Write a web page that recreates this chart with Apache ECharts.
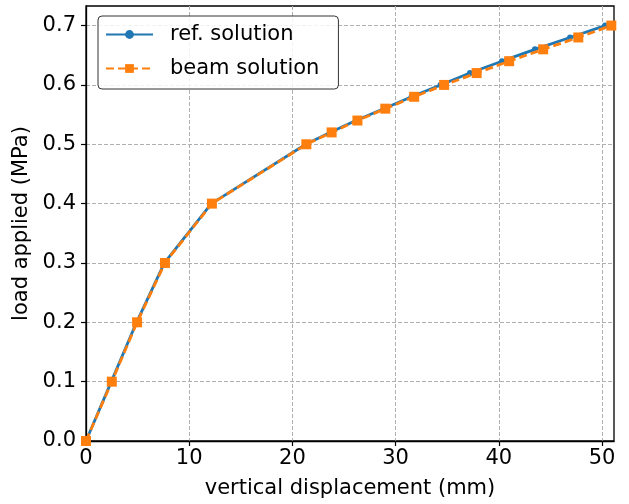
<!DOCTYPE html>
<html>
<head>
<meta charset="utf-8">
<script src="https://cdn.jsdelivr.net/npm/echarts@6/dist/echarts.min.js"></script>
<style>html,body{margin:0;padding:0;background:#fff}#c{width:629px;height:504px}</style>
</head>
<body>
<div id="c"></div>
<script>
const loads = [0, 0.1, 0.2, 0.3, 0.4, 0.5, 0.52, 0.54, 0.56, 0.58, 0.60, 0.62, 0.64, 0.66, 0.68, 0.70];
const refDisp = [0, 2.45, 4.9, 7.6, 12.15, 21.3, 23.65, 26.15, 28.85, 31.55, 34.35, 37.2, 40.3, 43.5, 46.9, 50.3];
const beamDisp = [0, 2.5, 4.95, 7.65, 12.2, 21.35, 23.8, 26.3, 29.0, 31.8, 34.7, 37.85, 41.0, 44.3, 47.7, 50.9];
const xTicks = [0, 10, 20, 30, 40, 50];
const yTicks = [0, 0.1, 0.2, 0.3, 0.4, 0.5, 0.6, 0.7];

const font = 'DejaVu Sans';
const fs = 21;
const chart = echarts.init(document.getElementById('c'), null, {renderer: 'canvas'});
const pair = (xs) => xs.map((x, i) => [x, loads[i]]);
chart.setOption({
  animation: false,
  backgroundColor: '#fff',
  grid: {left: 86, right: 15, top: 6, bottom: 63, show: true, borderColor: '#000', borderWidth: 1.3, backgroundColor: 'transparent'},
  xAxis: {
    type: 'value', min: 0, max: 51.16, interval: 10,
    name: 'vertical displacement (mm)', nameLocation: 'middle', nameGap: 37,
    nameTextStyle: {fontFamily: font, fontSize: fs, color: '#000'},
    axisLine: {show: true, onZero: false, lineStyle: {color: '#000', width: 1.3}},
    axisTick: {show: true, length: 5, lineStyle: {color: '#000', width: 1.2}, customValues: xTicks},
    axisLabel: {fontFamily: font, fontSize: fs, color: '#000', margin: 7, customValues: xTicks, formatter: v => String(v)},
    splitLine: {show: true, lineStyle: {color: '#b0b0b0', type: [4, 2], width: 1}}
  },
  yAxis: {
    type: 'value', min: 0, max: 0.733, interval: 0.1,
    name: 'load applied (MPa)', nameLocation: 'middle', nameGap: 51, nameRotate: 90,
    nameTextStyle: {fontFamily: font, fontSize: fs, color: '#000'},
    axisLine: {show: true, onZero: false, lineStyle: {color: '#000', width: 1.3}},
    axisTick: {show: true, length: 5, lineStyle: {color: '#000', width: 1.2}, customValues: yTicks},
    axisLabel: {fontFamily: font, fontSize: fs, color: '#000', margin: 10, customValues: yTicks, formatter: v => v.toFixed(1)},
    splitLine: {show: true, lineStyle: {color: '#b0b0b0', type: [4, 2], width: 1}}
  },
  legend: {
    left: 98, top: 16, orient: 'vertical',
    padding: [8, 19, 10, 7], itemGap: 13,
    itemWidth: 47, itemHeight: 11,
    backgroundColor: 'rgba(255,255,255,0.85)', borderColor: '#333', borderWidth: 1, borderRadius: 4,
    textStyle: {fontFamily: font, fontSize: fs, color: '#000', padding: [0, 0, 0, 12]},
    data: ['ref. solution', 'beam solution']
  },
  series: [
    {
      name: 'ref. solution', type: 'line', data: pair(refDisp),
      color: '#1f77b4', symbol: 'circle', symbolSize: 6, showSymbol: true,
      lineStyle: {color: '#1f77b4', width: 2.8},
      itemStyle: {color: '#1f77b4'}, clip: true, z: 2
    },
    {
      name: 'beam solution', type: 'line', data: pair(beamDisp),
      color: '#ff7f0e', symbol: 'rect', symbolSize: 10, showSymbol: true,
      lineStyle: {color: '#ff7f0e', width: 2.8, type: [8, 4]},
      itemStyle: {color: '#ff7f0e'}, clip: true, z: 3
    }
  ]
});
</script>
</body>
</html>
